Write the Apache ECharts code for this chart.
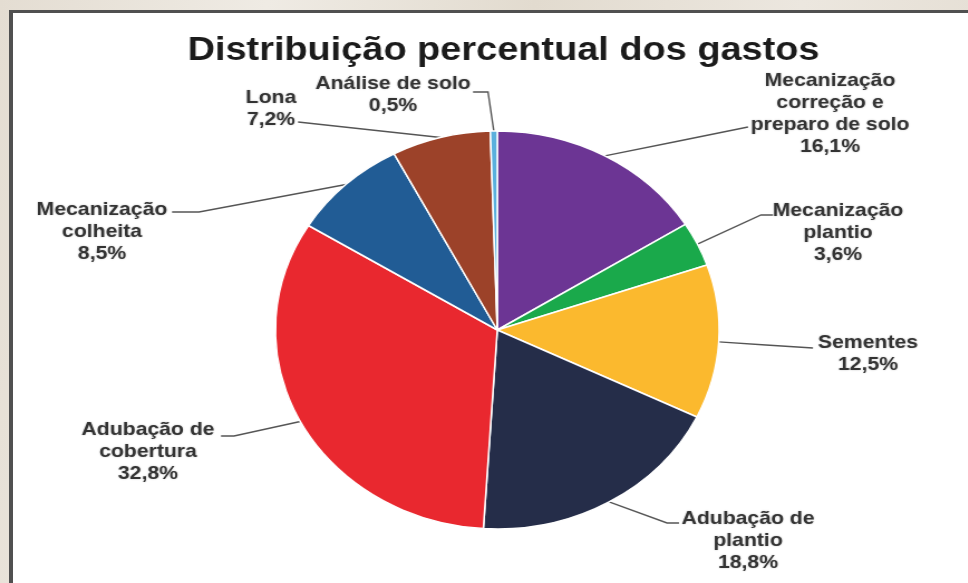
<!DOCTYPE html>
<html>
<head>
<meta charset="utf-8">
<title>Distribuição percentual dos gastos</title>
<script src="https://cdn.jsdelivr.net/npm/echarts@6/dist/echarts.min.js"></script>
<style>
  html, body {
    margin: 0; padding: 0; width: 968px; height: 583px; overflow: hidden;
    background: linear-gradient(100deg, #e4ddd2 0%, #efebe4 25%, #e2dbcf 50%, #ece7df 75%, #e3dcd1 100%);
  }
  #panel {
    position: absolute; left: 9px; top: 10px; width: 975px; height: 590px;
    background: #ffffff; box-sizing: border-box;
    border-left: 4px solid #505050; border-top: 3px solid #505050;
  }
  /* the drawing is widened horizontally as a whole */
  #chart {
    position: absolute; left: 0; top: 0; width: 868px; height: 583px;
    transform: scaleX(1.115); transform-origin: 0 0;
  }
</style>
</head>
<body>
<div id="panel"></div>
<div id="chart"></div>
<script>
// ---- data ----
const titleText = 'Distribuição percentual dos gastos';
const categories = [
  'Mecanização\ncorreção e\npreparo de solo',
  'Mecanização\nplantio',
  'Sementes',
  'Adubação de\nplantio',
  'Adubação de\ncobertura',
  'Mecanização\ncolheita',
  'Lona',
  'Análise de solo'
];
const shares = [16.1, 3.6, 12.5, 18.8, 32.8, 8.5, 7.2, 0.5];

// ---- styling ----
const STRETCH = 1.115;
const sliceColors = ['#6c3594', '#1aa94b', '#fbb92e', '#252d49', '#e9282f', '#215c95', '#9c4229', '#5ab0dd'];

// label placement in page pixels: block centre, optional elbow, line end
const labelSpots = [
  { x: 830, y: 113.5, end: [748, 127] },
  { x: 838, y: 232.5, bend: [761, 215], end: [773, 215] },
  { x: 868, y: 354,   end: [813, 348] },
  { x: 748, y: 541,   bend: [667, 523], end: [679, 523] },
  { x: 148, y: 451.5, bend: [234, 436], end: [221, 436] },
  { x: 102, y: 232,   bend: [199, 212], end: [172, 212] },
  { x: 271, y: 109,   end: [298, 122] },
  { x: 393, y: 95,    bend: [488, 92], end: [473, 92] }
];

function pct(v) {
  return v.toFixed(1).replace('.', ',') + '%';
}

const chart = echarts.init(document.getElementById('chart'), null, { renderer: 'canvas' });

chart.setOption({
  animation: false,
  backgroundColor: 'transparent',
  graphic: [{
    type: 'text',
    x: 503.5 / STRETCH,
    y: 51,
    silent: true,
    style: {
      text: titleText,
      fill: '#1b1b1b',
      font: 'bold 34px "Liberation Sans", Arial, sans-serif',
      textAlign: 'center',
      textVerticalAlign: 'middle',
      align: 'center',
      verticalAlign: 'middle'
    }
  }],
  series: [{
    type: 'pie',
    center: [446, 330],
    radius: 199,
    startAngle: 90,
    clockwise: true,
    avoidLabelOverlap: false,
    silent: true,
    data: categories.map((name, i) => ({
      name: name,
      value: shares[i],
      itemStyle: { color: sliceColors[i] }
    })),
    itemStyle: { borderColor: '#ffffff', borderWidth: 1.5 },
    label: {
      show: true,
      position: 'outside',
      formatter: p => p.name + '\n' + pct(p.value),
      color: '#333333',
      fontFamily: '"Liberation Sans", Arial, sans-serif',
      fontWeight: 'bold',
      fontSize: 19,
      lineHeight: 22,
      align: 'center',
      textShadowColor: 'rgba(0,0,0,0.25)',
      textShadowBlur: 2
    },
    labelLine: {
      show: true,
      length: 10,
      length2: 10,
      lineStyle: { color: '#555555', width: 1.4 }
    },
    labelLayout: function (p) {
      const spot = labelSpots[p.dataIndex];
      const start = p.labelLinePoints ? p.labelLinePoints[0] : [spot.end[0] / STRETCH, spot.end[1]];
      const end = [spot.end[0] / STRETCH, spot.end[1]];
      const mid = spot.bend
        ? [spot.bend[0] / STRETCH, spot.bend[1]]
        : [(start[0] + end[0]) / 2, (start[1] + end[1]) / 2];
      return {
        x: spot.x / STRETCH,
        y: spot.y,
        align: 'center',
        verticalAlign: 'middle',
        labelLinePoints: [start, mid, end]
      };
    }
  }]
});
</script>
</body>
</html>
